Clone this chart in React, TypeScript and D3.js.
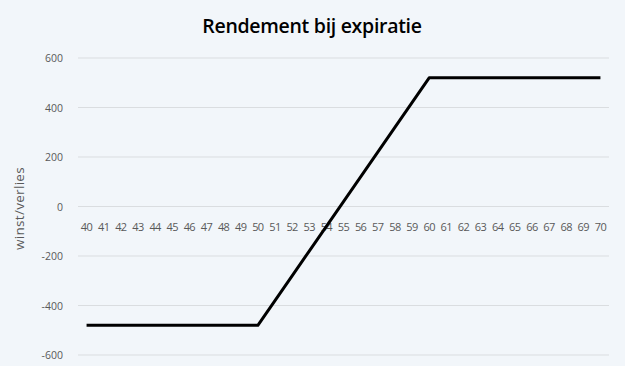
import React from "react";
import * as d3 from "d3";

const categories: number[] = d3.range(40, 71);
const values: number[] = [
  -480, -480, -480, -480, -480, -480, -480, -480, -480, -480, -480,
  -380, -280, -180, -80, 20, 120, 220, 320, 420, 520,
  520, 520, 520, 520, 520, 520, 520, 520, 520, 520,
];
const yTicks: number[] = [600, 400, 200, 0, -200, -400, -600];
const title = "Rendement bij expiratie";
const yLabel = "winst/verlies";

const W = 625;
const H = 366;
const left = 78;
const right = 609;
const top = 58;
const bottom = 355;

export default function App() {
  const x = d3.scaleBand<number>().domain(categories).range([left, right]);
  const y = d3.scaleLinear().domain([-600, 600]).range([bottom, top]);
  const line = d3
    .line<number>()
    .x((_, i) => (x(categories[i]) as number) + x.bandwidth() / 2)
    .y((d) => y(d));
  const font = "'Open Sans', 'Liberation Sans', sans-serif";
  return (
    <svg
      width={W}
      height={H}
      style={{ position: "absolute", left: 0, top: 0, display: "block" }}
      fontFamily={font}
    >
      <rect x={0} y={0} width={W} height={H} fill="#F2F6FA" />
      <text x={312} y={33} textAnchor="middle" fontSize={19.5} fontWeight={600} letterSpacing={-0.3} fill="#000">
        {title}
      </text>
      {yTicks.map((t) => (
        <g key={t}>
          <line x1={left} x2={right} y1={y(t)} y2={y(t)} stroke="#DADDE0" strokeWidth={1} />
          <text x={63} y={y(t) + 4} textAnchor="end" fontSize={10.5} fill="#595959">
            {t}
          </text>
        </g>
      ))}
      {categories.map((c) => (
        <text
          key={c}
          x={(x(c) as number) + x.bandwidth() / 2}
          y={y(0) + 24}
          textAnchor="middle"
          fontSize={11}
          letterSpacing={-0.6}
          fill="#595959"
        >
          {c}
        </text>
      ))}
      <text
        transform={`translate(24,${y(0) + 2}) rotate(-90)`}
        textAnchor="middle"
        fontSize={13.5}
        letterSpacing={0.3}
        fill="#595959"
      >
        {yLabel}
      </text>
      <path d={line(values) || ""} fill="none" stroke="#000" strokeWidth={3} strokeLinejoin="round" />
    </svg>
  );
}
